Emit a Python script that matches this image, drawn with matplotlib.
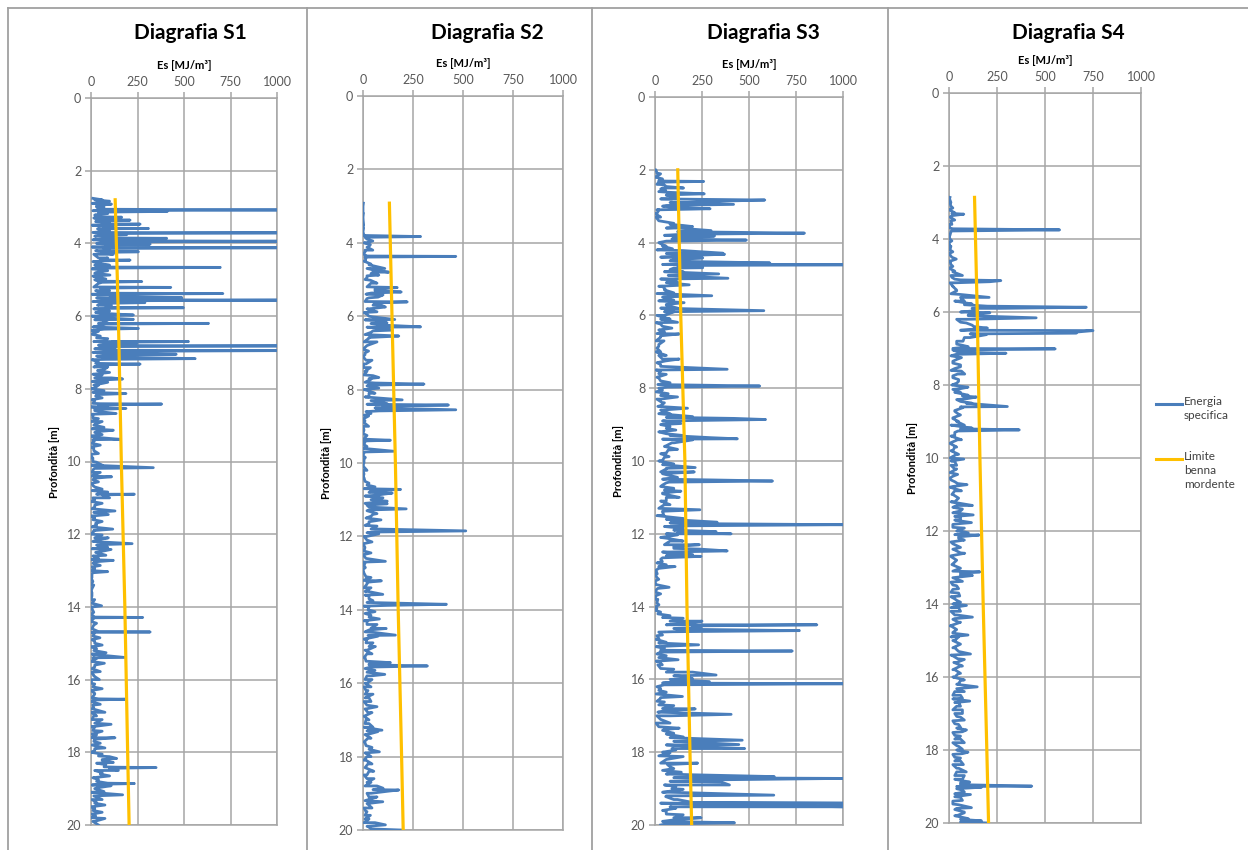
# Diagrafie S1-S4: specific energy logs vs depth, with the clamshell limit line.

import numpy as np
import matplotlib.pyplot as plt
from matplotlib.lines import Line2D

plt.rcParams['font.family'] = ['Lato', 'DejaVu Sans']

BLUE = '#4A7EBB'
YELLOW = '#FFC000'
GRID = '#A6A6A6'
TICK_TXT = '#595959'

# --------- data (depth [m], Es [MJ/m3]) ---------
# main readings: spikes and the baseline between them

s1_depth = [2.76, 2.80, 2.84, 2.88, 2.92, 2.96, 3.00, 3.06, 3.08, 3.10,
            3.12, 3.14, 3.18, 3.22, 3.27, 3.28, 3.30, 3.35, 3.36, 3.38,
            3.42, 3.46, 3.47, 3.49, 3.54, 3.58, 3.59, 3.61, 3.66, 3.70,
            3.71, 3.73, 3.76, 3.78, 3.82, 3.85, 3.86, 3.88, 3.93, 3.94,
            3.96, 4.01, 4.02, 4.04, 4.08, 4.11, 4.12, 4.14, 4.19, 4.22,
            4.23, 4.25, 4.30, 4.36, 4.40, 4.45, 4.46, 4.48, 4.55, 4.60,
            4.65, 4.66, 4.68, 4.75, 4.82, 4.87, 4.92, 4.98, 5.04, 5.05,
            5.07, 5.14, 5.20, 5.21, 5.23, 5.30, 5.37, 5.38, 5.40, 5.46,
            5.49, 5.51, 5.55, 5.56, 5.58, 5.63, 5.65, 5.71, 5.76, 5.77,
            5.79, 5.86, 5.92, 5.97, 5.99, 6.04, 6.09, 6.11, 6.19, 6.20,
            6.22, 6.28, 6.34, 6.36, 6.42, 6.48, 6.55, 6.62, 6.69, 6.70,
            6.72, 6.74, 6.76, 6.81, 6.82, 6.84, 6.90, 6.94, 6.95, 6.97,
            7.02, 7.05, 7.07, 7.12, 7.17, 7.19, 7.26, 7.32, 7.34, 7.40,
            7.47, 7.55, 7.62, 7.70, 7.73, 7.76, 7.82, 7.90, 7.98, 8.05,
            8.13, 8.16, 8.25, 8.33, 8.41, 8.42, 8.44, 8.50, 8.54, 8.57,
            8.63, 8.68, 8.72, 8.82, 8.90, 8.98, 9.06, 9.14, 9.18, 9.26,
            9.34, 9.39, 9.42, 9.55, 9.65, 9.78, 9.90, 10.02, 10.10, 10.17,
            10.19, 10.30, 10.42, 10.46, 10.56, 10.66, 10.76, 10.84, 10.90, 10.92,
            11.00, 11.05, 11.15, 11.25, 11.36, 11.40, 11.46, 11.55, 11.65, 11.75,
            11.86, 11.90, 12.02, 12.10, 12.16, 12.26, 12.29, 12.36, 12.42, 12.48,
            12.58, 12.66, 12.72, 12.76, 12.86, 12.95, 13.03, 13.06, 13.20, 13.40,
            13.60, 13.80, 13.97, 14.00, 14.15, 14.28, 14.29, 14.31, 14.45, 14.55,
            14.68, 14.69, 14.71, 14.85, 14.95, 15.05, 15.15, 15.26, 15.32, 15.39,
            15.42, 15.55, 15.65, 15.78, 15.88, 16.00, 16.12, 16.25, 16.38, 16.53,
            16.54, 16.56, 16.68, 16.78, 16.90, 17.00, 17.10, 17.23, 17.30, 17.42,
            17.52, 17.60, 17.64, 17.75, 17.88, 17.95, 18.05, 18.12, 18.17, 18.22,
            18.28, 18.34, 18.41, 18.42, 18.44, 18.50, 18.56, 18.65, 18.75, 18.85,
            18.86, 18.88, 18.92, 18.98, 19.08, 19.17, 19.20, 19.30, 19.38, 19.45,
            19.55, 19.65, 19.75, 19.82, 19.90, 20.00]
s1_es = [10, 60, 100, 40, 110, 30, 70, 50, 1000, 60,
         410, 40, 90, 20, 60, 165, 50, 80, 210, 40,
         100, 60, 264, 30, 120, 70, 309, 50, 100, 60,
         1000, 80, 192, 40, 120, 90, 407, 70, 110, 1000,
         90, 60, 318, 80, 130, 60, 1000, 70, 100, 40,
         255, 60, 120, 30, 90, 50, 210, 80, 40, 100,
         60, 695, 40, 90, 20, 102, 30, 80, 40, 273,
         60, 30, 70, 429, 50, 100, 60, 709, 90, 120,
         488, 100, 130, 1000, 80, 290, 60, 110, 80, 497,
         40, 100, 50, 228, 70, 40, 228, 90, 60, 632,
         80, 30, 255, 70, 40, 10, 50, 90, 70, 524,
         110, 246, 90, 120, 1000, 100, 130, 90, 1000, 80,
         140, 458, 90, 60, 560, 80, 40, 264, 60, 90,
         70, 100, 60, 110, 170, 50, 90, 40, 20, 70,
         188, 30, 60, 20, 50, 380, 40, 90, 188, 20,
         50, 135, 10, 40, 60, 20, 70, 120, 30, 60,
         40, 156, 20, 50, 15, 40, 10, 30, 60, 335,
         20, 50, 111, 20, 40, 10, 60, 90, 233, 60,
         100, 20, 60, 20, 129, 30, 93, 20, 60, 30,
         117, 20, 60, 93, 30, 221, 40, 90, 108, 50,
         80, 40, 120, 20, 50, 20, 90, 10, 5, 15,
         5, 20, 57, 10, 15, 20, 278, 15, 30, 10,
         40, 318, 20, 48, 20, 60, 30, 81, 40, 180,
         30, 72, 20, 50, 15, 45, 20, 60, 20, 40,
         183, 20, 50, 15, 75, 30, 60, 108, 20, 60,
         30, 129, 20, 50, 75, 20, 60, 100, 138, 60,
         120, 80, 140, 350, 100, 147, 60, 100, 40, 90,
         233, 40, 108, 30, 70, 170, 20, 60, 30, 75,
         20, 60, 25, 75, 20, 40]

s2_depth = [2.92, 3.20, 3.50, 3.80, 3.83, 3.85, 3.95, 4.00, 4.05, 4.12,
            4.20, 4.25, 4.36, 4.37, 4.39, 4.48, 4.58, 4.65, 4.70, 4.75,
            4.80, 4.84, 4.88, 4.95, 5.02, 5.10, 5.15, 5.22, 5.26, 5.34,
            5.37, 5.42, 5.48, 5.52, 5.61, 5.64, 5.70, 5.75, 5.80, 5.88,
            5.95, 6.02, 6.09, 6.12, 6.18, 6.24, 6.29, 6.32, 6.38, 6.44,
            6.54, 6.58, 6.70, 6.80, 6.95, 7.05, 7.20, 7.30, 7.40, 7.50,
            7.62, 7.67, 7.72, 7.82, 7.85, 7.88, 7.96, 8.02, 8.10, 8.20,
            8.28, 8.32, 8.38, 8.42, 8.45, 8.50, 8.55, 8.58, 8.65, 8.72,
            8.85, 9.00, 9.10, 9.25, 9.35, 9.38, 9.42, 9.55, 9.68, 9.72,
            9.85, 10.00, 10.20, 10.40, 10.55, 10.65, 10.72, 10.76, 10.82, 10.88,
            10.95, 11.04, 11.08, 11.11, 11.15, 11.25, 11.28, 11.38, 11.45, 11.55,
            11.65, 11.72, 11.80, 11.85, 11.88, 11.93, 12.00, 12.15, 12.30, 12.45,
            12.60, 12.68, 12.72, 12.85, 13.00, 13.12, 13.21, 13.25, 13.40, 13.50,
            13.58, 13.62, 13.75, 13.85, 13.88, 13.92, 14.05, 14.15, 14.25, 14.30,
            14.40, 14.51, 14.55, 14.62, 14.69, 14.72, 14.80, 14.90, 15.00, 15.10,
            15.20, 15.30, 15.44, 15.48, 15.53, 15.56, 15.65, 15.76, 15.80, 15.90,
            16.00, 16.10, 16.20, 16.30, 16.40, 16.50, 16.64, 16.70, 16.80, 16.90,
            17.00, 17.10, 17.20, 17.28, 17.32, 17.40, 17.50, 17.62, 17.75, 17.87,
            17.92, 18.00, 18.10, 18.20, 18.30, 18.40, 18.50, 18.60, 18.70, 18.80,
            18.86, 18.91, 18.94, 19.00, 19.10, 19.23, 19.28, 19.40, 19.50, 19.60,
            19.70, 19.80, 19.86, 19.90, 19.97, 20.00]
s2_es = [2, 0, 3, 5, 288, 10, 49, 15, 37, 20,
         49, 10, 20, 464, 10, 12, 40, 70, 109, 60,
         129, 40, 79, 20, 37, 70, 30, 171, 60, 191,
         40, 100, 75, 20, 221, 60, 90, 112, 30, 70,
         20, 50, 159, 80, 120, 90, 288, 60, 146, 40,
         179, 30, 70, 20, 28, 10, 45, 15, 37, 10,
         50, 79, 40, 60, 305, 30, 79, 20, 60, 30,
         196, 60, 120, 427, 100, 150, 464, 80, 40, 28,
         10, 28, 5, 20, 5, 137, 10, 20, 154, 5,
         12, 5, 20, 5, 30, 60, 188, 40, 146, 60,
         100, 121, 50, 121, 20, 216, 30, 70, 40, 90,
         30, 70, 79, 514, 60, 79, 20, 45, 10, 40,
         15, 112, 10, 12, 5, 40, 92, 20, 40, 10,
         99, 30, 50, 417, 121, 30, 60, 40, 82, 20,
         70, 116, 30, 60, 162, 74, 20, 50, 62, 20,
         45, 10, 137, 30, 322, 40, 60, 109, 20, 45,
         10, 40, 15, 50, 10, 40, 70, 15, 45, 5,
         30, 10, 50, 95, 74, 20, 40, 10, 45, 82,
         20, 40, 15, 45, 10, 54, 20, 55, 20, 70,
         100, 179, 129, 40, 70, 99, 20, 45, 15, 37,
         10, 60, 112, 20, 40, 188]

s3_depth = [2.00, 2.08, 2.11, 2.18, 2.25, 2.31, 2.32, 2.34, 2.41, 2.46,
            2.50, 2.53, 2.57, 2.62, 2.66, 2.69, 2.75, 2.80, 2.83, 2.86,
            2.90, 2.95, 2.98, 3.03, 3.07, 3.10, 3.20, 3.30, 3.40, 3.47,
            3.53, 3.56, 3.60, 3.67, 3.70, 3.74, 3.77, 3.82, 3.86, 3.93,
            3.96, 4.03, 4.10, 4.17, 4.22, 4.29, 4.32, 4.36, 4.42, 4.47,
            4.52, 4.56, 4.58, 4.61, 4.63, 4.69, 4.74, 4.80, 4.86, 4.90,
            4.98, 5.01, 5.08, 5.16, 5.20, 5.30, 5.38, 5.46, 5.49, 5.58,
            5.65, 5.72, 5.80, 5.87, 5.90, 6.00, 6.10, 6.19, 6.24, 6.35,
            6.45, 6.51, 6.56, 6.70, 6.85, 7.00, 7.10, 7.20, 7.25, 7.35,
            7.48, 7.52, 7.62, 7.72, 7.85, 7.94, 7.97, 8.05, 8.15, 8.24,
            8.30, 8.40, 8.48, 8.55, 8.60, 8.70, 8.78, 8.83, 8.86, 8.90,
            8.97, 9.05, 9.15, 9.25, 9.30, 9.36, 9.39, 9.42, 9.50, 9.58,
            9.68, 9.78, 9.88, 9.98, 10.08, 10.18, 10.22, 10.30, 10.35, 10.45,
            10.52, 10.55, 10.58, 10.66, 10.75, 10.83, 10.88, 11.00, 11.10, 11.20,
            11.34, 11.38, 11.50, 11.58, 11.68, 11.72, 11.75, 11.78, 11.85, 11.94,
            11.97, 12.00, 12.03, 12.12, 12.20, 12.30, 12.35, 12.42, 12.47, 12.50,
            12.57, 12.62, 12.66, 12.76, 12.85, 12.90, 12.95, 13.10, 13.25, 13.40,
            13.47, 13.52, 13.65, 13.80, 13.95, 14.05, 14.15, 14.25, 14.32, 14.40,
            14.45, 14.50, 14.53, 14.58, 14.62, 14.66, 14.69, 14.78, 14.88, 14.98,
            15.05, 15.09, 15.15, 15.22, 15.25, 15.35, 15.46, 15.50, 15.60, 15.72,
            15.80, 15.88, 15.92, 15.98, 16.06, 16.09, 16.12, 16.15, 16.25, 16.35,
            16.47, 16.52, 16.62, 16.72, 16.81, 16.86, 16.96, 17.00, 17.10, 17.20,
            17.34, 17.38, 17.48, 17.58, 17.67, 17.72, 17.79, 17.84, 17.90, 17.94,
            18.02, 18.12, 18.20, 18.30, 18.34, 18.45, 18.55, 18.62, 18.67, 18.72,
            18.76, 18.82, 18.90, 18.94, 19.02, 19.10, 19.18, 19.22, 19.30, 19.38,
            19.40, 19.45, 19.50, 19.54, 19.62, 19.72, 19.80, 19.86, 19.94, 19.97,
            20.00]
s3_es = [0, 10, 30, 10, 40, 60, 259, 20, 48, 60,
         152, 30, 57, 80, 262, 60, 120, 90, 584, 361,
         150, 418, 60, 100, 293, 21, 10, 30, 20, 100,
         150, 200, 120, 298, 180, 795, 150, 316, 120, 486,
         60, 30, 60, 93, 150, 361, 370, 150, 254, 100,
         200, 611, 150, 1000, 120, 254, 80, 150, 339, 100,
         388, 75, 120, 182, 40, 57, 100, 302, 48, 100,
         155, 60, 120, 579, 102, 50, 80, 120, 30, 90,
         50, 129, 30, 48, 20, 30, 60, 129, 57, 30,
         384, 30, 60, 20, 80, 557, 66, 40, 70, 120,
         30, 50, 30, 173, 40, 80, 200, 423, 588, 48,
         138, 80, 111, 60, 150, 300, 438, 200, 102, 60,
         120, 60, 75, 40, 100, 214, 60, 209, 40, 120,
         300, 625, 75, 40, 100, 138, 40, 129, 60, 80,
         239, 40, 48, 150, 330, 200, 1000, 182, 150, 325,
         120, 405, 120, 60, 150, 236, 100, 236, 384, 80,
         200, 245, 40, 39, 60, 107, 20, 12, 20, 10,
         75, 10, 30, 15, 21, 10, 30, 80, 150, 250,
         180, 861, 200, 245, 120, 768, 93, 40, 21, 60,
         232, 40, 50, 730, 30, 60, 123, 20, 39, 100,
         200, 325, 150, 200, 289, 60, 1000, 48, 30, 60,
         146, 30, 50, 100, 214, 60, 405, 84, 30, 80,
         129, 48, 100, 150, 464, 180, 446, 200, 477, 111,
         80, 150, 60, 227, 66, 100, 140, 200, 634, 1000,
         300, 352, 396, 111, 150, 80, 632, 57, 120, 200,
         1000, 400, 1000, 111, 60, 150, 245, 100, 423, 60,
         30]

s4_depth = [2.86, 3.00, 3.15, 3.28, 3.32, 3.36, 3.48, 3.60, 3.72, 3.75,
            3.78, 3.90, 4.05, 4.20, 4.35, 4.55, 4.60, 4.75, 4.88, 5.00,
            5.05, 5.12, 5.14, 5.17, 5.20, 5.30, 5.42, 5.52, 5.60, 5.64,
            5.70, 5.78, 5.84, 5.87, 5.90, 5.96, 6.02, 6.08, 6.16, 6.20,
            6.28, 6.36, 6.44, 6.51, 6.55, 6.58, 6.62, 6.70, 6.80, 6.88,
            6.95, 7.01, 7.04, 7.13, 7.16, 7.25, 7.35, 7.45, 7.55, 7.62,
            7.70, 7.75, 7.85, 7.95, 8.06, 8.12, 8.20, 8.28, 8.33, 8.38,
            8.45, 8.50, 8.59, 8.62, 8.72, 8.82, 8.92, 9.00, 9.10, 9.18,
            9.23, 9.26, 9.38, 9.50, 9.58, 9.70, 9.80, 9.90, 10.03, 10.08,
            10.20, 10.30, 10.45, 10.55, 10.65, 10.73, 10.78, 10.90, 11.00, 11.10,
            11.20, 11.30, 11.35, 11.45, 11.56, 11.60, 11.68, 11.77, 11.82, 11.92,
            12.00, 12.05, 12.11, 12.16, 12.25, 12.35, 12.45, 12.52, 12.61, 12.68,
            12.80, 12.92, 13.02, 13.12, 13.16, 13.22, 13.28, 13.38, 13.48, 13.58,
            13.68, 13.78, 13.86, 13.95, 14.04, 14.10, 14.20, 14.30, 14.36, 14.42,
            14.50, 14.60, 14.70, 14.78, 14.85, 14.90, 15.00, 15.10, 15.20, 15.30,
            15.37, 15.42, 15.52, 15.60, 15.70, 15.80, 15.90, 16.00, 16.08, 16.18,
            16.27, 16.32, 16.40, 16.50, 16.58, 16.66, 16.70, 16.80, 16.90, 17.00,
            17.08, 17.18, 17.28, 17.38, 17.45, 17.52, 17.62, 17.70, 17.80, 17.88,
            17.98, 18.06, 18.12, 18.22, 18.30, 18.40, 18.50, 18.60, 18.70, 18.80,
            18.88, 18.95, 18.99, 19.02, 19.06, 19.15, 19.22, 19.28, 19.38, 19.48,
            19.58, 19.63, 19.72, 19.80, 19.88, 19.94, 19.97, 20.00]
s4_es = [5, 10, 20, 30, 77, 15, 30, 15, 20, 576,
         12, 5, 15, 5, 20, 38, 10, 20, 30, 70,
         15, 60, 270, 213, 30, 21, 40, 60, 209, 65,
         80, 120, 200, 715, 265, 150, 213, 100, 454, 91,
         60, 120, 200, 750, 663, 663, 195, 110, 73, 40,
         100, 553, 20, 297, 38, 65, 20, 60, 30, 65,
         82, 20, 50, 40, 99, 20, 60, 100, 143, 87,
         60, 120, 304, 73, 30, 60, 20, 50, 80, 120,
         366, 47, 30, 65, 10, 40, 20, 50, 77, 10,
         40, 30, 45, 5, 30, 94, 20, 65, 15, 50,
         30, 122, 20, 60, 126, 30, 60, 117, 20, 80,
         40, 100, 157, 50, 80, 20, 60, 30, 82, 10,
         40, 15, 60, 161, 60, 122, 20, 70, 20, 50,
         10, 56, 30, 60, 91, 10, 60, 30, 122, 20,
         50, 5, 40, 20, 99, 10, 30, 60, 20, 50,
         112, 20, 80, 40, 70, 20, 60, 30, 80, 50,
         147, 40, 80, 20, 70, 108, 30, 60, 20, 70,
         40, 80, 30, 60, 91, 20, 60, 30, 80, 40,
         70, 99, 20, 60, 30, 75, 40, 90, 30, 70,
         108, 60, 431, 169, 40, 80, 112, 30, 70, 20,
         117, 30, 80, 40, 100, 169, 60, 204]

# extra baseline readings every 0.1 m (the dense low part of each log)
s1_fill_top, s1_fill_bot = 2.8, 19.9
s1_fill_es = [20, 5, 30, 10, 40, 15, 25, 5, 35, 10,
              20, 10, 30, 5, 25, 15, 40, 10, 20, 5,
              30, 10, 20, 40, 15, 25, 5, 30, 10, 35,
              15, 25, 5, 20, 40, 10, 0, 5, 30, 15,
              40, 20, 10, 30, 5, 25, 15, 35, 10, 20,
              5, 15, 0, 10, 25, 5, 10, 0, 20, 5,
              10, 0, 15, 5, 20, 0, 10, 5, 0, 15,
              0, 5, 10, 0, 15, 5, 0, 10, 5, 20,
              5, 30, 10, 0, 20, 5, 15, 0, 10, 25,
              5, 15, 0, 20, 10, 30, 5, 25, 10, 0,
              10, 5, 0, 5, 0, 10, 0, 5, 0, 5,
              0, 5, 0, 10, 0, 5, 0, 15, 5, 0,
              10, 5, 20, 0, 15, 5, 10, 0, 20, 5,
              0, 15, 5, 0, 10, 0, 20, 5, 0, 10,
              5, 0, 15, 5, 20, 0, 10, 5, 0, 15,
              5, 20, 0, 40, 60, 30, 70, 20, 50, 10,
              30, 5, 20, 0, 15, 5, 20, 0, 10, 5,
              0, 10]

s2_fill_top, s2_fill_bot = 3.0, 19.9
s2_fill_es = [0, 0, 2, 0, 1, 0, 3, 0, 2, 20,
              5, 30, 10, 0, 15, 5, 30, 20, 50, 20,
              10, 40, 20, 60, 15, 30, 10, 50, 20, 5,
              30, 10, 40, 20, 50, 10, 30, 5, 20, 0,
              10, 0, 15, 5, 0, 20, 5, 30, 10, 20,
              5, 30, 10, 40, 20, 60, 15, 5, 0, 5,
              0, 5, 0, 10, 0, 5, 0, 2, 0, 5,
              0, 3, 0, 5, 0, 10, 20, 5, 30, 10,
              40, 10, 30, 20, 50, 15, 30, 10, 40, 20,
              5, 20, 0, 10, 5, 0, 15, 0, 5, 0,
              5, 15, 0, 20, 5, 25, 10, 30, 20, 5,
              25, 10, 30, 5, 20, 40, 10, 25, 5, 15,
              30, 10, 20, 5, 15, 30, 10, 20, 40, 10,
              20, 5, 25, 10, 30, 5, 20, 10, 25, 5,
              15, 30, 5, 20, 10, 25, 5, 15, 30, 10,
              20, 5, 25, 10, 30, 5, 20, 40, 10, 50,
              20, 30, 10, 25, 5, 20, 10, 30, 5, 25]

s3_fill_top, s3_fill_bot = 2.0, 19.9
s3_fill_es = [5, 10, 0, 20, 10, 40, 20, 60, 30, 80,
              40, 10, 0, 5, 20, 80, 60, 120, 50, 90,
              20, 40, 10, 60, 30, 80, 40, 100, 50, 70,
              30, 60, 20, 50, 10, 40, 20, 60, 30, 50,
              10, 30, 5, 40, 20, 10, 30, 5, 20, 10,
              5, 20, 40, 10, 30, 5, 20, 10, 30, 15,
              20, 5, 30, 10, 40, 15, 30, 20, 60, 40,
              30, 60, 20, 80, 40, 90, 50, 70, 30, 50,
              20, 40, 60, 30, 80, 40, 60, 30, 50, 40,
              60, 30, 50, 20, 40, 10, 60, 80, 50, 100,
              60, 30, 80, 50, 100, 40, 60, 30, 10, 20,
              5, 0, 10, 0, 5, 15, 0, 5, 0, 10,
              5, 0, 15, 40, 80, 60, 100, 20, 10, 5,
              20, 5, 30, 10, 20, 5, 15, 30, 60, 100,
              80, 40, 10, 20, 5, 30, 10, 20, 40, 15,
              10, 30, 5, 20, 40, 60, 80, 100, 60, 90,
              40, 20, 60, 30, 80, 40, 60, 100, 80, 50,
              90, 40, 60, 100, 30, 80, 40, 60, 100, 40]

s4_fill_top, s4_fill_bot = 2.9, 19.9
s4_fill_es = [3,
              5, 10, 0, 15, 5, 10, 0, 5, 10, 0,
              5, 0, 10, 5, 0, 15, 5, 10, 0, 20,
              10, 30, 5, 20, 40, 10, 60, 30, 80, 120,
              60, 100, 40, 90, 130, 60, 110, 80, 40, 60,
              20, 50, 10, 40, 20, 60, 10, 45, 20, 50,
              15, 60, 30, 70, 40, 90, 60, 30, 50, 20,
              40, 10, 60, 30, 10, 45, 5, 30, 10, 40,
              5, 30, 10, 40, 5, 20, 10, 45, 5, 30,
              20, 50, 10, 40, 70, 20, 60, 30, 50, 20,
              60, 30, 50, 10, 40, 20, 60, 10, 40, 20,
              50, 20, 60, 30, 10, 40, 20, 50, 10, 40,
              20, 50, 10, 40, 30, 60, 10, 40, 20, 50,
              20, 60, 30, 50, 10, 45, 25, 60, 30, 50,
              20, 60, 40, 80, 30, 60, 20, 50, 40, 70,
              30, 60, 20, 50, 40, 70, 30, 60, 20, 50,
              40, 70, 30, 60, 20, 50, 40, 80, 30, 60,
              40, 70, 30, 60, 20, 50, 40, 80, 30, 60]

# "Limite benna mordente" per log
s1_lim_depth = [2.80, 6, 10, 14, 18, 20]
s1_lim_es = [130, 147, 163, 182, 197, 205]
s2_lim_depth = [2.92, 6, 10, 14, 18, 20]
s2_lim_es = [132, 145, 162, 176, 193, 201]
s3_lim_depth = [2.00, 6, 10, 14, 18, 20]
s3_lim_es = [121, 137, 159, 170, 186, 195]
s4_lim_depth = [2.86, 6, 10, 14, 18, 20]
s4_lim_es = [133, 147, 161, 178, 197, 206]

titles = ['Diagrafia S1', 'Diagrafia S2', 'Diagrafia S3', 'Diagrafia S4']
x_ticks = [0, 250, 500, 750, 1000]
y_ticks = list(range(0, 21, 2))

W, H = 1248, 850


def px_rect(x0, x1, y_top, y_bot):
    """Pixel box of the plot area -> figure fraction rect."""
    return [x0 / W, 1 - y_bot / H, (x1 - x0) / W, (y_bot - y_top) / H]


def merge_log(depth, es, fill_top, fill_bot, fill_es):
    """Put the 0.1 m baseline readings between the main ones, ordered by depth."""
    fill_depth = np.linspace(fill_top, fill_bot, len(fill_es))
    d = np.concatenate([np.asarray(depth, float), fill_depth])
    v = np.concatenate([np.asarray(es, float), np.asarray(fill_es, float)])
    order = np.argsort(d, kind='stable')
    return d[order], v[order]


def draw_log(fig, rect, title, title_x, depth, es, lim_depth, lim_es):
    ax = fig.add_axes(rect)
    ax.plot(es, depth, color=BLUE, lw=2.0, zorder=3)
    ax.plot(lim_es, lim_depth, color=YELLOW, lw=2.3, zorder=4)

    ax.set_xlim(0, 1000)
    ax.set_ylim(20, 0)
    ax.set_xticks(x_ticks)
    ax.set_yticks(y_ticks)
    ax.xaxis.tick_top()
    ax.xaxis.set_label_position('top')
    ax.grid(True, color=GRID, lw=1.1)
    ax.set_axisbelow(True)
    for sp in ax.spines.values():
        sp.set_color(GRID)
        sp.set_linewidth(1.1)
    ax.tick_params(labelsize=9, labelcolor=TICK_TXT, color=GRID,
                   length=4, width=1.1, pad=3)
    ax.set_xlabel('Es [MJ/m³]', fontsize=8, fontweight='bold', labelpad=5)
    ax.set_ylabel('Profondità [m]', fontsize=8, fontweight='bold', labelpad=5)

    fig.text(title_x / W, 1 - 33 / H, title, fontsize=15, fontweight='bold',
             ha='center', va='center')
    return ax


fig = plt.figure(figsize=(W / 100, H / 100), dpi=100)

logs = [
    (px_rect(91, 277, 98, 825), 190,
     merge_log(s1_depth, s1_es, s1_fill_top, s1_fill_bot, s1_fill_es), s1_lim_depth, s1_lim_es),
    (px_rect(363, 563, 96, 830), 487,
     merge_log(s2_depth, s2_es, s2_fill_top, s2_fill_bot, s2_fill_es), s2_lim_depth, s2_lim_es),
    (px_rect(655, 843, 97, 825), 763,
     merge_log(s3_depth, s3_es, s3_fill_top, s3_fill_bot, s3_fill_es), s3_lim_depth, s3_lim_es),
    (px_rect(949, 1141, 93, 823), 1068,
     merge_log(s4_depth, s4_es, s4_fill_top, s4_fill_bot, s4_fill_es), s4_lim_depth, s4_lim_es),
]
for title, (rect, tx, (d, v), ld, le) in zip(titles, logs):
    draw_log(fig, rect, title, tx, d, v, ld, le)

# chart frames (separate Excel charts pasted side by side)
for xp in [8, 307, 592, 888]:
    fig.add_artist(Line2D([xp / W, xp / W], [0, 1 - 8 / H], color='#A0A0A0', lw=1.3))
fig.add_artist(Line2D([8 / W, 1], [1 - 8 / H, 1 - 8 / H], color='#A0A0A0', lw=1.3))

# legend, drawn like the Excel one (handle level with first text line)
for y_px, col, label in [(404, BLUE, 'Energia\nspecifica'),
                         (459, YELLOW, 'Limite\nbenna\nmordente')]:
    fig.add_artist(Line2D([1156 / W, 1182 / W], [1 - y_px / H] * 2, color=col, lw=2.2))
    fig.text(1184 / W, 1 - (y_px - 8) / H, label, fontsize=8.5, color='#404040',
             ha='left', va='top', linespacing=1.35)

fig.savefig('out.png', dpi=100)
